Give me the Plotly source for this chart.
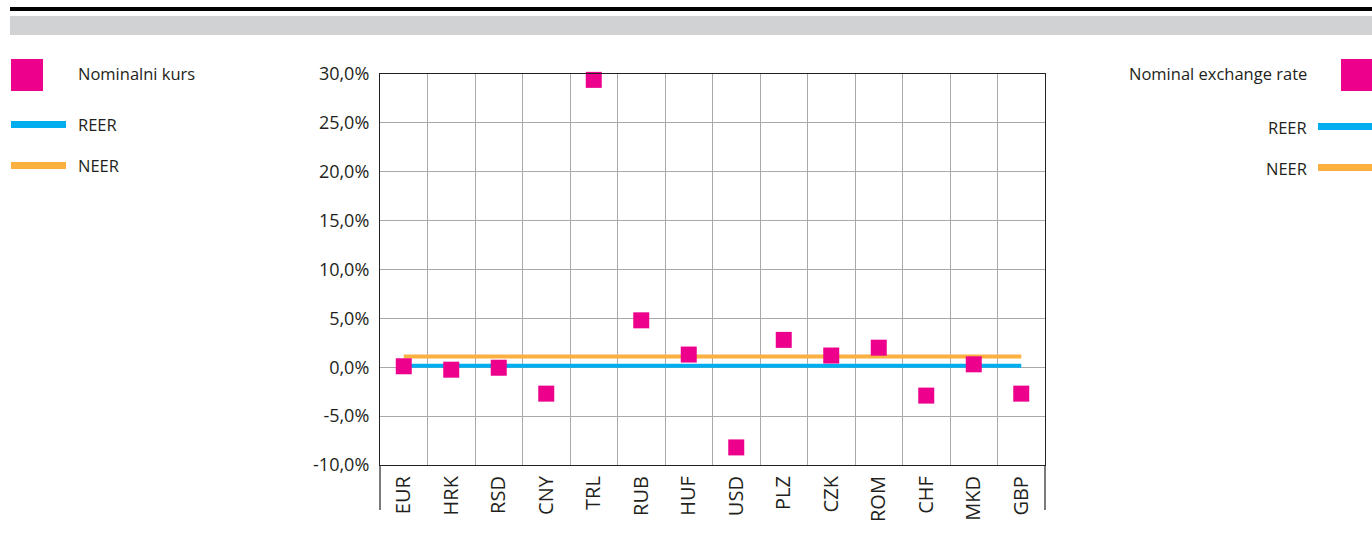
import plotly.graph_objects as go

categories = ["EUR", "HRK", "RSD", "CNY", "TRL", "RUB", "HUF", "USD", "PLZ", "CZK", "ROM", "CHF", "MKD", "GBP"]
nominal = [0.1, -0.25, -0.05, -2.7, 29.4, 4.8, 1.3, -8.2, 2.8, 1.2, 2.0, -2.9, 0.3, -2.7]
reer = [0.15] * len(categories)
neer = [1.1] * len(categories)
y_ticks = [-10, -5, 0, 5, 10, 15, 20, 25, 30]
y_tick_labels = [f"{v:.1f}".replace(".", ",") + "%" for v in y_ticks]

MAGENTA = "#EC008C"
BLUE = "#00AEEF"
ORANGE = "#FBB040"
FONT = "Open Sans"

W, H = 1372, 540
L, R, T, B = 380, 1045, 74, 465


def px(x):
    return (x - L) / (R - L)


def py(y):
    return (B - y) / (B - T)


fig = go.Figure()
fig.add_trace(go.Scatter(x=categories, y=neer, mode="lines", line=dict(color=ORANGE, width=4), name="NEER"))
fig.add_trace(go.Scatter(x=categories, y=reer, mode="lines", line=dict(color=BLUE, width=4), name="REER"))
fig.add_trace(go.Scatter(x=categories, y=nominal, mode="markers",
                         marker=dict(symbol="square", size=16, color=MAGENTA, line=dict(width=0)),
                         name="Nominalni kurs", cliponaxis=False))

shapes = []
# header bars
shapes.append(dict(type="rect", xref="paper", yref="paper", x0=px(10), x1=px(1372), y0=py(11), y1=py(7),
                   fillcolor="black", line=dict(width=0), layer="above"))
shapes.append(dict(type="rect", xref="paper", yref="paper", x0=px(10), x1=px(1372), y0=py(35), y1=py(16),
                   fillcolor="#D1D2D4", line=dict(width=0), layer="above"))
# axis extension lines below plot
for xx in (L, R):
    shapes.append(dict(type="line", xref="paper", yref="paper", x0=px(xx), x1=px(xx), y0=py(B), y1=py(510),
                       line=dict(color="#222", width=1.2)))
# left legend
shapes.append(dict(type="rect", xref="paper", yref="paper", x0=px(11), x1=px(43), y0=py(91), y1=py(59),
                   fillcolor=MAGENTA, line=dict(width=0)))
shapes.append(dict(type="rect", xref="paper", yref="paper", x0=px(11), x1=px(66), y0=py(128), y1=py(121),
                   fillcolor=BLUE, line=dict(width=0)))
shapes.append(dict(type="rect", xref="paper", yref="paper", x0=px(11), x1=px(66), y0=py(169), y1=py(162),
                   fillcolor=ORANGE, line=dict(width=0)))
# right legend
shapes.append(dict(type="rect", xref="paper", yref="paper", x0=px(1341), x1=px(1373), y0=py(91), y1=py(59),
                   fillcolor=MAGENTA, line=dict(width=0)))
shapes.append(dict(type="rect", xref="paper", yref="paper", x0=px(1318), x1=px(1373), y0=py(130), y1=py(123),
                   fillcolor=BLUE, line=dict(width=0)))
shapes.append(dict(type="rect", xref="paper", yref="paper", x0=px(1318), x1=px(1373), y0=py(171), y1=py(164),
                   fillcolor=ORANGE, line=dict(width=0)))

tf = dict(family=FONT, size=16.5, color="#231F20")
annotations = [
    dict(text="Nominalni kurs", x=px(76), y=py(73), xanchor="left", yanchor="middle"),
    dict(text="REER", x=px(76), y=py(124), xanchor="left", yanchor="middle"),
    dict(text="NEER", x=px(76), y=py(165), xanchor="left", yanchor="middle"),
    dict(text="Nominal exchange rate", x=px(1309), y=py(73), xanchor="right", yanchor="middle"),
    dict(text="REER", x=px(1309), y=py(127), xanchor="right", yanchor="middle"),
    dict(text="NEER", x=px(1309), y=py(168), xanchor="right", yanchor="middle"),
]
for a in annotations:
    a.update(xref="paper", yref="paper", showarrow=False, font=tf)

fig.update_layout(
    width=W, height=H,
    margin=dict(l=L, r=W - R, t=T, b=H - B, pad=0),
    paper_bgcolor="white", plot_bgcolor="white",
    showlegend=False,
    shapes=shapes,
    annotations=annotations,
    font=dict(family=FONT, color="#231F20"),
)
fig.update_xaxes(
    type="category", tickson="boundaries", showgrid=True, gridcolor="#A7A9AC", gridwidth=1,
    showline=True, linecolor="#222", linewidth=1.2, mirror=True,
    tickangle=-90, tickfont=dict(family=FONT, size=20, color="#231F20"),
    ticks="", range=[-0.5, len(categories) - 0.5], ticklabelstandoff=2,
)
fig.update_yaxes(
    range=[-10, 30], tickmode="array", tickvals=y_ticks, ticktext=y_tick_labels,
    showgrid=True, gridcolor="#A7A9AC", gridwidth=1, zeroline=False,
    showline=True, linecolor="#222", linewidth=1.2, mirror=True,
    tickfont=dict(family=FONT, size=18, color="#231F20"), ticks="", ticklabelstandoff=6,
)

fig.write_html("out.html", config={"displayModeBar": False},
               post_script="document.body.style.margin='0';document.body.style.overflow='hidden';")
